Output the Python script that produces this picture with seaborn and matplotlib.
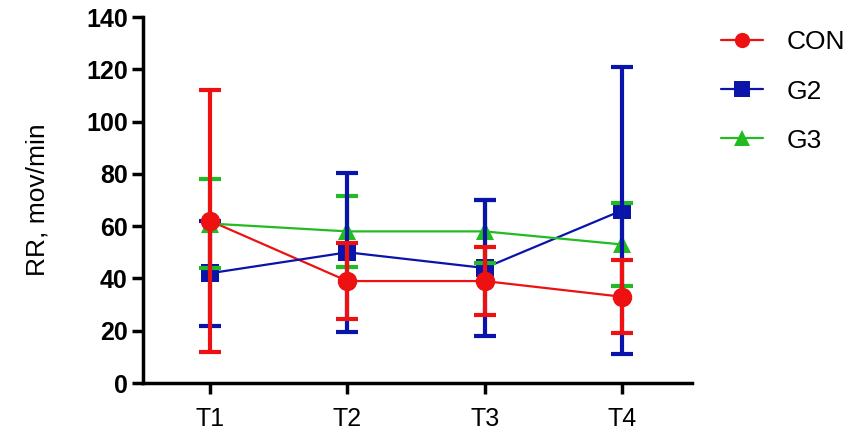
import numpy as np
import pandas as pd
import matplotlib
matplotlib.use("Agg")
import matplotlib.pyplot as plt
import seaborn as sns

# Time points and group data (mean +/- SD)
times = ["T1", "T2", "T3", "T4"]
groups = ["CON", "G2", "G3"]
con_mean = [62, 39, 39, 33]
con_sd = [50, 14.5, 13, 14]
g2_mean = [42, 50, 44, 66]
g2_sd = [20, 30.5, 26, 55]
g3_mean = [61, 58, 58, 53]
g3_sd = [17, 13.7, 12, 16]

colors = {"CON": "#EE1111", "G2": "#0A14AA", "G3": "#22BB22"}
markers = {"CON": "o", "G2": "s", "G3": "^"}

means = {"CON": con_mean, "G2": g2_mean, "G3": g3_mean}
sds = {"CON": con_sd, "G2": g2_sd, "G3": g3_sd}

rows = []
for g in groups:
    for i, t in enumerate(times):
        rows.append({"group": g, "time": i, "RR": means[g][i], "sd": sds[g][i]})
df = pd.DataFrame(rows)

sns.set_style("ticks")
plt.rcParams["font.family"] = ["Liberation Sans", "DejaVu Sans"]
plt.rcParams["text.color"] = "black"
plt.rcParams["axes.labelcolor"] = "black"
plt.rcParams["xtick.color"] = "black"
plt.rcParams["ytick.color"] = "black"

fig = plt.figure(figsize=(8.51, 4.43), dpi=100)
ax = fig.add_axes([0.168, 0.1354, 0.645, 0.8262])

sns.lineplot(data=df, x="time", y="RR", hue="group", style="group",
             hue_order=groups, style_order=groups,
             palette=colors, markers=markers, dashes=False,
             markersize=13, markeredgewidth=0, linewidth=1.6,
             ax=ax, zorder=2)

# error bars (mean +/- SD)
for g in ["G3", "G2", "CON"]:
    d = df[df["group"] == g]
    ax.errorbar(d["time"], d["RR"], yerr=d["sd"], fmt="none",
                ecolor=colors[g], elinewidth=3, capsize=8, capthick=3, zorder=3)

# redraw CON markers on top like the original
d = df[df["group"] == "CON"]
ax.plot(d["time"], d["RR"], "o", color=colors["CON"], markersize=13, zorder=4)

ax.set_xlim(-0.49, 3.51)
ax.set_ylim(0, 140)
ax.set_yticks(range(0, 141, 20))
ax.set_xticks(range(len(times)))
ax.set_xticklabels(times)
ax.set_xlabel("")
ax.set_ylabel("RR, mov/min", fontsize=19, labelpad=26)

for lab in ax.get_yticklabels():
    lab.set_fontweight("bold")
ax.tick_params(axis="both", labelsize=18, length=8, width=2.5)
ax.tick_params(axis="y", pad=3)
ax.tick_params(axis="x", pad=9)

sns.despine(ax=ax)
for side in ["left", "bottom"]:
    ax.spines[side].set_linewidth(2.5)
    ax.spines[side].set_color("black")

leg = ax.legend(loc="upper left", bbox_to_anchor=(0.835, 0.955),
                bbox_transform=fig.transFigure, frameon=False,
                fontsize=19, handlelength=1.6, labelspacing=0.95,
                handletextpad=0.9, borderaxespad=0)
for line in leg.get_lines():
    line.set_markersize(11)
    line.set_linewidth(1.6)

fig.savefig("out.png", dpi=100)
